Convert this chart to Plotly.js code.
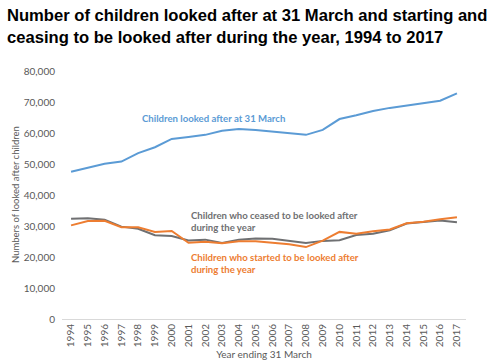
<!DOCTYPE html>
<html><head><meta charset="utf-8">
<script src="https://cdn.plot.ly/plotly-3.0.1.min.js"></script>
<style>body{margin:0;background:#fff}#c{width:492px;height:364px}</style>
</head><body><div id="c"></div>
<script>
const years = ["1994","1995","1996","1997","1998","1999","2000","2001","2002","2003","2004","2005","2006","2007","2008","2009","2010","2011","2012","2013","2014","2015","2016","2017"];
const lookedAfter = [47500,48700,50100,50800,53500,55400,58100,58700,59400,60700,61300,61000,60400,60000,59400,61000,64500,65700,67100,68100,68900,69500,70400,72800];
const ceased = [32300,32500,32000,29800,29100,27000,26800,25300,25600,24500,25600,26000,25900,25100,24500,25200,25400,27100,27500,28600,30800,31300,31800,31200];
const started = [30200,31600,31700,29600,29600,28100,28400,24600,24900,24400,25100,25100,24600,24100,23200,25300,28100,27500,28300,28900,30900,31400,32200,32800];
const yTicks = [0,10000,20000,30000,40000,50000,60000,70000,80000];
const yTickText = ["0","10,000","20,000","30,000","40,000","50,000","60,000","70,000","80,000"];

const font = "Lato, 'Open Sans', sans-serif";
const traces = [
  {x: years, y: lookedAfter, type:'scatter', mode:'lines', line:{color:'#5B9BD5', width:2}, hoverinfo:'skip'},
  {x: years, y: ceased, type:'scatter', mode:'lines', line:{color:'#6F7072', width:2}, hoverinfo:'skip'},
  {x: years, y: started, type:'scatter', mode:'lines', line:{color:'#ED7D31', width:2}, hoverinfo:'skip'}
];
const layout = {
  width:492, height:364, showlegend:false,
  paper_bgcolor:'#fff', plot_bgcolor:'#fff',
  margin:{l:62, r:26, t:71, b:45},
  xaxis:{type:'category', range:[-0.54,23.54], tickangle:-90, showgrid:false, showline:true, linecolor:'#D9D9D9', linewidth:1,
    ticks:'', tickfont:{family:font, size:10, color:'#595959'},
    title:{text:'Year ending 31 March', font:{family:font, size:10, color:'#595959'}, standoff:4}},
  yaxis:{range:[0,80000], tickvals:yTicks, ticktext:yTickText, showgrid:false, zeroline:false, showline:false,
    ticks:'', tickfont:{family:font, size:10, color:'#595959'}, ticklabelstandoff:6},
  annotations:[
    {x:-0.141, y:1.27, xref:'paper', yref:'paper', xanchor:'left', yanchor:'top', align:'left', showarrow:false,
      text:'<b>Number of children looked after at 31 March and starting and<br>ceasing to be looked after during the year, 1994 to 2017</b>',
      font:{family:"'Liberation Sans', Arial, sans-serif", size:16.6, color:'#000'}},
    {x:-0.1163, y:0.5, xref:'paper', yref:'paper', xanchor:'center', yanchor:'middle', textangle:-90, showarrow:false,
      text:'Numbers of looked after children', font:{family:font, size:9.5, color:'#595959'}},
    {x:4.1, y:64600, xref:'x', yref:'y', text:'<b>Children looked after at 31 March</b>', showarrow:false, xanchor:'left', yanchor:'middle',
      font:{family:font, size:9.6, color:'#5B9BD5'}},
    {x:7.05, y:31400, xref:'x', yref:'y', text:'<b>Children who ceased to be looked after<br>during the year</b>', showarrow:false, xanchor:'left', yanchor:'middle', align:'left',
      font:{family:font, size:9.6, color:'#6F7072'}},
    {x:7.05, y:18000, xref:'x', yref:'y', text:'<b>Children who started to be looked after<br>during the year</b>', showarrow:false, xanchor:'left', yanchor:'middle', align:'left',
      font:{family:font, size:9.6, color:'#ED7D31'}}
  ]
};
Plotly.newPlot('c', traces, layout, {staticPlot:true, displayModeBar:false});
</script></body></html>
